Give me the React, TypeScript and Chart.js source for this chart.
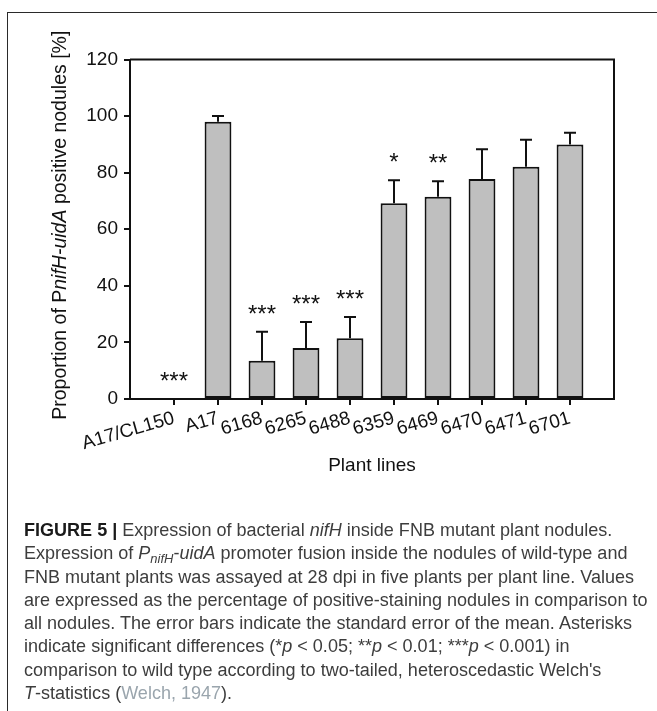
import React, { useEffect, useRef } from "react";
import { Chart, registerables } from "chart.js";

Chart.register(...registerables);

// ---- data ----
const categories = ["A17/CL150", "A17", "6168", "6265", "6488", "6359", "6469", "6470", "6471", "6701"];
const proportions = [0, 98, 13.5, 18, 21.5, 69.2, 71.5, 77.8, 82.1, 90];
const stdErrors = [0, 2, 10.3, 9.2, 7.5, 8.1, 5.5, 10.5, 9.5, 4.1];
const significance = ["***", "", "***", "***", "***", "*", "**", "", "", ""];
const yMin = 0;
const yMax = 120;
const yStep = 20;
const xTitle = "Plant lines";
const yTitleParts = [
  { text: "Proportion of P", italic: false },
  { text: "nifH-uidA", italic: true },
  { text: " positive nodules [%]", italic: false },
];

const FONT = "'Liberation Sans', Arial, Helvetica, sans-serif";
const INK = "#111";

const overlayPlugin = {
  id: "overlay",
  afterDatasetsDraw(chart: any) {
    const { ctx, chartArea, scales } = chart;
    const xs = scales.x;
    const ys = scales.y;
    ctx.save();
    ctx.strokeStyle = INK;
    ctx.fillStyle = INK;
    ctx.lineWidth = 2;
    // top + right frame of plot box
    ctx.beginPath();
    ctx.moveTo(chartArea.left, chartArea.top);
    ctx.lineTo(chartArea.right, chartArea.top);
    ctx.lineTo(chartArea.right, chartArea.bottom);
    ctx.stroke();

    proportions.forEach((v, i) => {
      const err = stdErrors[i];
      const px = xs.getPixelForValue(i + 1);
      const yTop = ys.getPixelForValue(v + err);
      if (err > 0) {
        const y0 = ys.getPixelForValue(v);
        ctx.beginPath();
        ctx.moveTo(px, y0);
        ctx.lineTo(px, yTop);
        ctx.moveTo(px - 6, yTop);
        ctx.lineTo(px + 6, yTop);
        ctx.stroke();
      }
      const s = significance[i];
      if (s) {
        const fs = 24;
        ctx.font = `${fs}px ${FONT}`;
        ctx.textAlign = "center";
        ctx.textBaseline = "alphabetic";
        ctx.fillText(s, px, yTop - 24 + 0.58 * fs);
      }
    });

    // y axis title with italic part
    const fs = 19.5;
    const normalFont = `${fs}px ${FONT}`;
    const italicFont = `italic ${fs}px ${FONT}`;
    let total = 0;
    const widths = yTitleParts.map((p) => {
      ctx.font = p.italic ? italicFont : normalFont;
      const w = ctx.measureText(p.text).width;
      total += w;
      return w;
    });
    const cy = (chartArea.top + chartArea.bottom) / 2 - 4;
    ctx.translate(58, cy);
    ctx.rotate(-Math.PI / 2);
    ctx.textAlign = "left";
    ctx.textBaseline = "alphabetic";
    let cx = -total / 2;
    yTitleParts.forEach((p, i) => {
      ctx.font = p.italic ? italicFont : normalFont;
      ctx.fillText(p.text, cx, 0);
      cx += widths[i];
    });
    ctx.restore();
  },
};

function BarChart() {
  const ref = useRef<HTMLCanvasElement>(null);
  useEffect(() => {
    if (!ref.current) return;
    const tickFont = { family: FONT, size: 19 };
    const chart = new Chart(ref.current, {
      type: "bar",
      data: {
        datasets: [
          {
            data: proportions.map((v, i) => ({ x: i + 1, y: v })),
            backgroundColor: "#bfbfbf",
            borderColor: INK,
            borderWidth: 2,
            borderSkipped: false,
            barPercentage: 0.61,
            categoryPercentage: 1,
          } as any,
        ],
      },
      options: {
        responsive: false,
        animation: false,
        layout: { padding: { top: 51.5, right: 43, left: 0, bottom: 0 } },
        plugins: { legend: { display: false }, tooltip: { enabled: false } },
        scales: {
          x: {
            type: "linear",
            min: 0,
            max: categories.length + 1,
            offset: false,
            afterBuildTicks: (s: any) => {
              s.ticks = categories.map((_, i) => ({ value: i + 1 }));
            },
            afterFit: (s: any) => {
              s.height = 99;
            },
            grid: {
              display: true,
              drawOnChartArea: false,
              drawTicks: true,
              tickLength: 6,
              color: INK,
              lineWidth: 2,
              offset: false,
            },
            border: { display: true, color: INK, width: 2 },
            ticks: {
              autoSkip: false,
              minRotation: 16,
              maxRotation: 16,
              padding: 2,
              color: INK,
              font: tickFont,
              callback: (v: any) => categories[Math.round(Number(v)) - 1] ?? "",
            },
            title: {
              display: true,
              text: xTitle,
              color: INK,
              font: { family: FONT, size: 19 },
              padding: { top: 0, bottom: 20.6 },
            },
          } as any,
          y: {
            min: yMin,
            max: yMax,
            afterFit: (s: any) => {
              s.width = 122;
            },
            grid: {
              display: true,
              drawOnChartArea: false,
              drawTicks: true,
              tickLength: 6,
              color: INK,
              lineWidth: 2,
            },
            border: { display: true, color: INK, width: 2 },
            ticks: { stepSize: yStep, padding: 6, color: INK, font: tickFont },
          } as any,
        },
      },
      plugins: [overlayPlugin],
    });
    return () => chart.destroy();
  }, []);
  return (
    <canvas
      ref={ref}
      width={649}
      height={490}
      style={{ position: "absolute", left: 0, top: 0, width: 649, height: 490, display: "block" }}
    />
  );
}

const lineStyle: React.CSSProperties = { height: 23.3, lineHeight: "23.3px", whiteSpace: "nowrap" };
const subStyle: React.CSSProperties = { fontSize: "0.72em", verticalAlign: "-0.28em", lineHeight: 0, fontStyle: "italic" };

function Caption() {
  return (
    <div
      style={{
        position: "absolute",
        left: 16,
        top: 511,
        fontFamily: FONT,
        fontSize: 18.05,
        color: "#3d3d3d",
      }}
    >
      <div style={lineStyle}>
        <b style={{ color: "#1a1a1a" }}>FIGURE 5 |</b> Expression of bacterial <i>nifH</i> inside FNB mutant plant nodules.
      </div>
      <div style={lineStyle}>
        Expression of <i>P</i>
        <span style={subStyle}>nifH</span>-<i>uidA</i> promoter fusion inside the nodules of wild-type and
      </div>
      <div style={lineStyle}>FNB mutant plants was assayed at 28 dpi in five plants per plant line. Values</div>
      <div style={lineStyle}>are expressed as the percentage of positive-staining nodules in comparison to</div>
      <div style={lineStyle}>all nodules. The error bars indicate the standard error of the mean. Asterisks</div>
      <div style={lineStyle}>
        indicate significant differences (*<i>p</i> &lt; 0.05; **<i>p</i> &lt; 0.01; ***<i>p</i> &lt; 0.001) in
      </div>
      <div style={lineStyle}>comparison to wild type according to two-tailed, heteroscedastic Welch's</div>
      <div style={lineStyle}>
        <i>T</i>-statistics (<span style={{ color: "#9aa5ad" }}>Welch, 1947</span>).
      </div>
    </div>
  );
}

export default function App() {
  useEffect(() => {
    document.documentElement.style.overflow = "hidden";
  }, []);
  return (
    <div style={{ position: "relative", width: 649, height: 695 }}>
      <div
        style={{
          position: "fixed",
          left: 7,
          top: 12,
          width: 800,
          height: 900,
          borderTop: "1.5px solid #2a2a2a",
          borderLeft: "1.5px solid #2a2a2a",
          pointerEvents: "none",
        }}
      />
      <BarChart />
      <Caption />
    </div>
  );
}
